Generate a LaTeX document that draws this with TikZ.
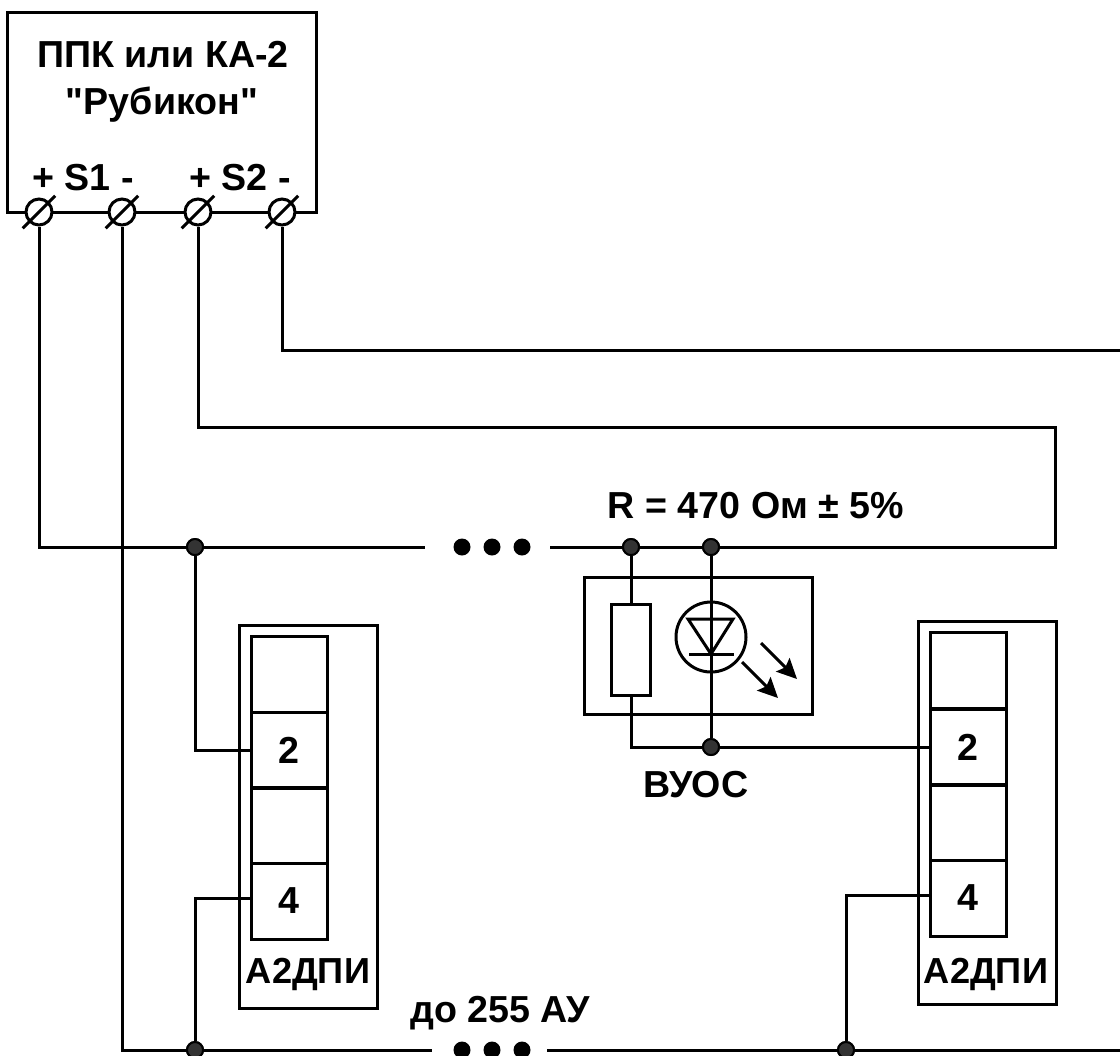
\documentclass[tikz,border=0pt]{standalone}
\usepackage{fontspec}
\setmainfont[Ligatures=TeXOff]{Liberation Sans}
\usetikzlibrary{arrows.meta}

\begin{document}
\begin{tikzpicture}
        % Define styles
        \tikzset{
            wire/.style={draw, line width=0.03cm},
            label/.style={font=\bfseries\fontsize{10.7}{12}\selectfont, inner sep=0pt},
            modulelabel/.style={font=\bfseries\fontsize{10.3}{12}\selectfont, inner sep=0pt},
            screw/.style={circle, draw, line width=0.03cm, fill=white, inner sep=0pt, minimum size=0.26cm},
            junction/.style={circle, draw, line width=0.02cm, fill=black!80, inner sep=0pt, minimum size=0.16cm},
            dotmark/.style={circle, fill=black, inner sep=0pt, minimum size=0.17cm},
            cell/.style={rectangle, draw, line width=0.03cm, inner sep=0pt, minimum width=0.76cm, minimum height=0.76cm, font=\bfseries\fontsize{10.7}{12}\selectfont},
            frame/.style={rectangle, draw, line width=0.03cm, inner sep=0pt},
            arrow/.style={-{Stealth[length=0.2cm,width=0.19cm,inset=0.035cm]}, line width=0.03cm}
        }
        \useasboundingbox (0,0) rectangle (11.2,-10.55);

        % Panel
        \node[frame, minimum width=3.08cm, minimum height=2cm] (panel_node) at (1.62,-1.12) {};
        \node[label] (panel_text_1) at (1.63,-0.55) {ППК или КА-2};
        \node[label] (panel_text_2) at (1.62,-1.05) {"Рубикон"};
        \node[label] (panel_text_3) at (0.83,-1.78) {+ S1 -};
        \node[label] (panel_text_4) at (2.40,-1.78) {+ S2 -};
        \node[screw] (screw_node_1) at (0.39,-2.12) {};
        \node[screw] (screw_node_2) at (1.22,-2.12) {};
        \node[screw] (screw_node_3) at (1.98,-2.12) {};
        \node[screw] (screw_node_4) at (2.82,-2.12) {};
        \draw[wire] ([shift={(-0.06,-0.06)}]screw_node_1.south west) -- ([shift={(0.06,0.06)}]screw_node_1.north east);
        \draw[wire] ([shift={(-0.06,-0.06)}]screw_node_2.south west) -- ([shift={(0.06,0.06)}]screw_node_2.north east);
        \draw[wire] ([shift={(-0.06,-0.06)}]screw_node_3.south west) -- ([shift={(0.06,0.06)}]screw_node_3.north east);
        \draw[wire] ([shift={(-0.06,-0.06)}]screw_node_4.south west) -- ([shift={(0.06,0.06)}]screw_node_4.north east);

        % Line ends
        \coordinate (top_end_1) at (4.25,-5.47);
        \coordinate (top_end_2) at (5.50,-5.47);
        \coordinate (top_corner) at (10.55,-5.47);
        \coordinate (bus_end_1) at (4.32,-10.5);
        \coordinate (bus_end_2) at (5.47,-10.5);
        \coordinate (bus_end_3) at (11.2,-10.5);
        \coordinate (return_end) at (11.2,-3.5);

        % Dots
        \node[dotmark] (dot_node_1) at (4.62,-5.47) {};
        \node[dotmark] (dot_node_2) at (4.92,-5.47) {};
        \node[dotmark] (dot_node_3) at (5.22,-5.47) {};
        \node[dotmark] (dot_node_4) at (4.62,-10.5) {};
        \node[dotmark] (dot_node_5) at (4.92,-10.5) {};
        \node[dotmark] (dot_node_6) at (5.22,-10.5) {};

        % Left module
        \node[frame, minimum width=1.38cm, minimum height=3.83cm] (module_node_1) at (3.08,-8.165) {};
        \node[cell] (cell_node_1) at (2.89,-6.74) {};
        \node[cell] (cell_node_2) at (2.89,-7.50) {2};
        \node[cell] (cell_node_3) at (2.89,-8.25) {};
        \node[cell] (cell_node_4) at (2.89,-9.01) {4};
        \node[modulelabel] (module_text_1) at (3.08,-9.74) {А2ДПИ};

        % Right module
        \node[frame, minimum width=1.38cm, minimum height=3.83cm] (module_node_2) at (9.87,-8.13) {};
        \node[cell] (cell_node_5) at (9.68,-6.70) {};
        \node[cell] (cell_node_6) at (9.68,-7.47) {2};
        \node[cell] (cell_node_7) at (9.68,-8.22) {};
        \node[cell] (cell_node_8) at (9.68,-8.98) {4};
        \node[modulelabel] (module_text_2) at (9.86,-9.74) {А2ДПИ};

        % Indicator
        \node[frame, minimum width=2.28cm, minimum height=1.37cm] (indicator_node) at (6.98,-6.455) {};
        \node[frame, fill=white, minimum width=0.39cm, minimum height=0.91cm] (resistor_node) at (6.31,-6.495) {};
        \node[circle, draw, line width=0.03cm, inner sep=0pt, minimum size=0.70cm] (led_node) at (7.11,-6.37) {};
        \coordinate (tri_left) at (6.88,-6.19);
        \coordinate (tri_right) at (7.33,-6.19);
        \coordinate (tri_tip) at (7.11,-6.54);
        \coordinate (bar_left) at (6.89,-6.54);
        \coordinate (bar_right) at (7.34,-6.54);
        \coordinate (ray_start_1) at (7.42,-6.62);
        \coordinate (ray_end_1) at (7.78,-6.98);
        \coordinate (ray_start_2) at (7.61,-6.43);
        \coordinate (ray_end_2) at (7.97,-6.79);
        \draw[wire] (tri_left) -- (tri_right) -- (tri_tip) -- cycle;
        \draw[wire] (bar_left) -- (bar_right);
        \draw[arrow] (ray_start_1) -- (ray_end_1);
        \draw[arrow] (ray_start_2) -- (ray_end_2);

        % Junctions
        \node[junction] (junction_node_1) at (1.95,-5.47) {};
        \node[junction] (junction_node_2) at (6.31,-5.47) {};
        \node[junction] (junction_node_3) at (7.11,-5.47) {};
        \node[junction] (junction_node_4) at (7.11,-7.47) {};
        \node[junction] (junction_node_5) at (1.95,-10.5) {};
        \node[junction] (junction_node_6) at (8.46,-10.5) {};

        % Wires
        \draw[wire] (screw_node_1) -- (0.39,-5.47) -- (top_end_1);
        \draw[wire] (screw_node_2) -- (1.22,-10.5) -- (bus_end_1);
        \draw[wire] (screw_node_3) -- (1.98,-4.27) -- (10.55,-4.27) -- (top_corner) -- (top_end_2);
        \draw[wire] (screw_node_4) -- (2.82,-3.5) -- (return_end);
        \draw[wire] (bus_end_2) -- (bus_end_3);
        \draw[wire] (junction_node_1) |- (cell_node_2.west);
        \draw[wire] (junction_node_5) |- ([yshift=0.03cm]cell_node_4.west);
        \draw[wire] (junction_node_6) |- ([yshift=0.03cm]cell_node_8.west);
        \draw[wire] (junction_node_2) -- (resistor_node);
        \draw[wire] (resistor_node) |- (junction_node_4);
        \draw[wire] (junction_node_3) -- (junction_node_4);
        \draw[wire] (junction_node_4) -- (cell_node_6.west);

        % Redraw junctions over the wires
        \node[junction] at (junction_node_1) {};
        \node[junction] at (junction_node_2) {};
        \node[junction] at (junction_node_3) {};
        \node[junction] at (junction_node_4) {};
        \node[junction] at (junction_node_5) {};
        \node[junction] at (junction_node_6) {};

        % Labels
        \node[label] (value_text) at (7.56,-5.06) {R = 470 Ом ± 5\%};
        \node[label] (indicator_text) at (6.96,-7.85) {ВУОС};
        \node[label] (count_text) at (5.00,-10.13) {до 255 АУ};
    \end{tikzpicture}
\end{document}
